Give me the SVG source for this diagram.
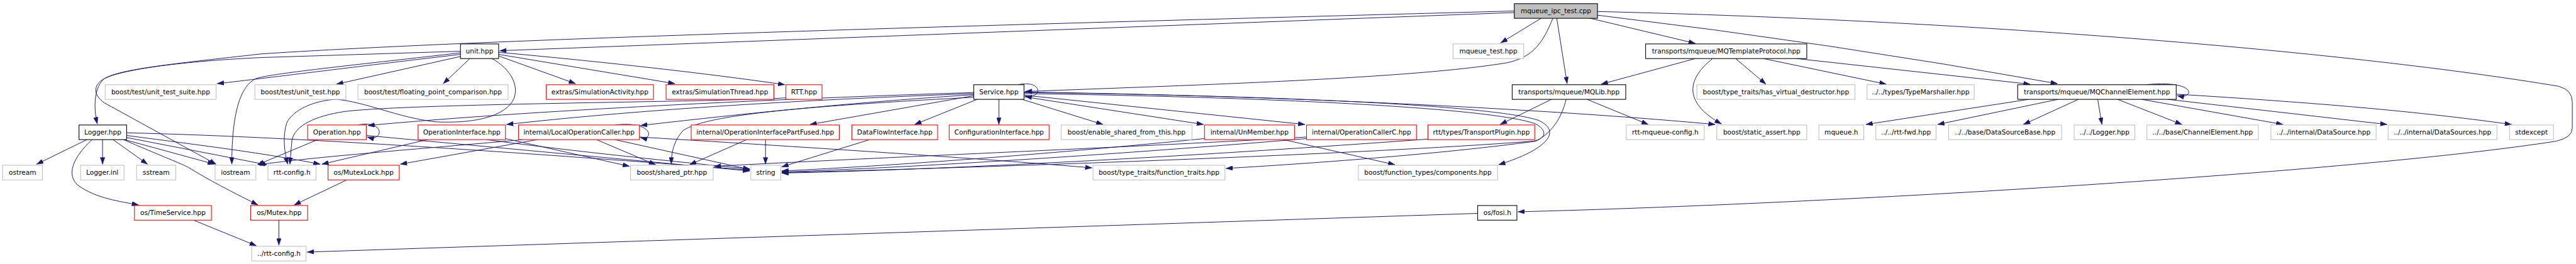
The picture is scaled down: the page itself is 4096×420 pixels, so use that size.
<svg xmlns="http://www.w3.org/2000/svg" width="4096" height="420" viewBox="0 0 4096 420">
<style>
.n rect{stroke-width:1.3}
.g rect{fill:#fff;stroke:#bfbfbf}
.r rect{fill:#fff;stroke:#ff0000}
.b rect{fill:#fff;stroke:#000}
.root rect{fill:#bfbfbf;stroke:#000}
text{font-family:"DejaVu Sans","Liberation Sans",sans-serif;font-size:12.7px;fill:#000;text-anchor:middle}
#edges path{fill:none;stroke:#191970;stroke-width:1.2;marker-end:url(#ah)}
</style>
<defs>
<marker id="ah" markerUnits="userSpaceOnUse" viewBox="0 0 13 9" markerWidth="13" markerHeight="9" refX="13" refY="4.5" orient="auto"><path d="M0,0 L13,4.5 L0,9 z" fill="#191970" stroke="#191970" stroke-width="0.5"/></marker>
</defs>
<rect width="4096" height="420" fill="#fff"/>
<g transform="scale(0.832)">
<g id="edges">
<path d="M2894,24 L955,97"/>
<path d="M2894,21 C2200,40 1000,70 500,103 C330,122 230,132 200,150 C180,160 175,180 200,197 L413,314"/>
<path d="M880,98 L500,110 C330,118 230,135 200,150 C180,165 178,205 186,237"/>
<path d="M880,104 C700,125 520,148 415,160"/>
<path d="M880,108 L643,161"/>
<path d="M898,112 L847,160"/>
<path d="M880,101 C700,122 520,140 490,150 C455,165 443,230 443,314"/>
<path d="M940,112 C975,130 1000,170 975,200 C945,232 880,235 833,233 C760,225 700,195 643,190 C600,192 560,210 548,235 C540,260 543,290 550,314"/>
<path d="M953,107 L1100,160"/>
<path d="M953,104 L1290,160"/>
<path d="M953,100 C1150,118 1350,140 1500,162"/>
<path d="M2947,34 L2868,82"/>
<path d="M2968,34 C2950,80 2930,110 2880,120 C2700,150 2300,162 1959,175"/>
<path d="M2975,34 L2995,160"/>
<path d="M3035,34 L3240,83"/>
<path d="M3053,29 Q3500,82 3932,160"/>
<path d="M3053,22 C3800,40 4500,100 4890,165 Q4916,172 4916,195 L4916,245 Q4916,263 4885,270 C4500,330 3500,390 2901,405"/>
<path d="M166,267 L70,314"/>
<path d="M196,267 L196,314"/>
<path d="M216,267 L282,314"/>
<path d="M238,267 L410,314"/>
<path d="M176,267 C140,300 125,335 150,355 C185,380 230,385 265,392"/>
<path d="M236,267 C300,295 340,310 360,320 C400,345 440,365 493,392"/>
<path d="M242,263 L510,315"/>
<path d="M242,259 C400,280 500,292 612,314"/>
<path d="M242,254 C600,262 1100,300 1433,325"/>
<path d="M370,421 L490,470"/>
<path d="M533,421 L533,469"/>
<path d="M663,344 L562,392"/>
<path d="M2824,408 L587,482"/>
<path d="M684,239 C735,228 735,272 702,262"/>
<path d="M607,267 L492,315"/>
<path d="M700,259 L1433,327"/>
<path d="M817,267 L615,314"/>
<path d="M966,265 L1203,318"/>
<path d="M930,267 C1100,290 1300,310 1433,323"/>
<path d="M1175,239 C1250,230 1250,270 1224,263"/>
<path d="M1140,267 L1253,315"/>
<path d="M1175,267 L1433,324"/>
<path d="M1027,267 L765,314"/>
<path d="M1000,267 C800,285 600,300 494,315"/>
<path d="M1222,262 C1600,285 1900,305 2087,321"/>
<path d="M1427,267 L1318,315"/>
<path d="M1463,267 L1463,314"/>
<path d="M1662,267 L1494,319"/>
<path d="M1945,162 C1995,152 1992,190 1959,184"/>
<path d="M1861,177 C1500,188 1000,212 703,240"/>
<path d="M1861,179 C1500,192 1200,212 968,238"/>
<path d="M1861,181 C1600,198 1400,220 1224,240"/>
<path d="M1861,183 L1548,238"/>
<path d="M1870,189 L1748,238"/>
<path d="M1909,189 L1909,238"/>
<path d="M1950,189 L2108,238"/>
<path d="M1957,185 L2300,238"/>
<path d="M1957,182 L2494,238"/>
<path d="M1861,186 C1500,205 1345,222 1305,250 C1288,270 1283,290 1283,314"/>
<path d="M1957,177 C2400,182 2850,200 2940,230 C2985,250 2960,285 2864,315"/>
<path d="M1957,179 C2400,185 2850,205 2935,237 C2958,250 2955,265 2930,270 C2600,295 1900,320 1494,330"/>
<path d="M1957,176 C2500,184 3000,212 3278,238"/>
<path d="M1502,187 C1400,195 800,197 660,213 C600,222 565,240 558,267 L554,314"/>
<path d="M2993,190 C2985,225 2965,255 2935,270 C2750,295 2500,313 2343,322"/>
<path d="M2302,265 C2100,285 1800,312 1494,327"/>
<path d="M2453,267 L2666,315"/>
<path d="M2497,265 C2200,290 1800,318 1494,329"/>
<path d="M2497,262 C2200,280 1700,300 1365,318"/>
<path d="M2729,266 C2400,290 1900,322 1494,331"/>
<path d="M3033,190 L3150,238"/>
<path d="M2965,190 L2867,238"/>
<path d="M3240,112 L3060,161"/>
<path d="M3273,112 C3225,150 3215,195 3290,237"/>
<path d="M3317,112 L3375,161"/>
<path d="M3370,112 L3605,161"/>
<path d="M3433,112 L3880,161"/>
<path d="M4100,162 C4200,152 4195,190 4161,183"/>
<path d="M3877,190 L3566,238"/>
<path d="M3933,190 L3703,238"/>
<path d="M3972,190 L3867,238"/>
<path d="M4009,190 L4017,238"/>
<path d="M4047,190 L4170,238"/>
<path d="M4093,190 L4363,238"/>
<path d="M4143,190 L4562,238"/>
<path d="M4159,180 C4400,195 4600,210 4800,238"/>
</g>
<g id="n_root" class="n root"><rect x="2894" y="7" width="159" height="28"/><text x="2973.5" y="25.5">mqueue_ipc_test.cpp</text></g>
<g id="n_unit" class="n b"><rect x="880" y="84" width="73" height="28"/><text x="916.5" y="102.5">unit.hpp</text></g>
<g id="n_mqtest" class="n g"><rect x="2777" y="84" width="135" height="28"/><text x="2844.5" y="102.5">mqueue_test.hpp</text></g>
<g id="n_mqtp" class="n b"><rect x="3145" y="84" width="308" height="28"/><text x="3299" y="102.5">transports/mqueue/MQTemplateProtocol.hpp</text></g>
<g id="n_uts" class="n g"><rect x="201" y="162" width="212" height="28"/><text x="307" y="180.5">boost/test/unit_test_suite.hpp</text></g>
<g id="n_ut" class="n g"><rect x="487" y="162" width="174" height="28"/><text x="574" y="180.5">boost/test/unit_test.hpp</text></g>
<g id="n_fpc" class="n g"><rect x="684" y="162" width="287" height="28"/><text x="827.5" y="180.5">boost/test/floating_point_comparison.hpp</text></g>
<g id="n_simact" class="n r"><rect x="1044" y="162" width="205" height="28"/><text x="1146.5" y="180.5">extras/SimulationActivity.hpp</text></g>
<g id="n_simthr" class="n r"><rect x="1273" y="162" width="206" height="28"/><text x="1376" y="180.5">extras/SimulationThread.hpp</text></g>
<g id="n_rtt" class="n r"><rect x="1502" y="162" width="69" height="28"/><text x="1536.5" y="180.5">RTT.hpp</text></g>
<g id="n_service" class="n b"><rect x="1861" y="162" width="96" height="28"/><text x="1909" y="180.5">Service.hpp</text></g>
<g id="n_mqlib" class="n b"><rect x="2890" y="162" width="217" height="28"/><text x="2998.5" y="180.5">transports/mqueue/MQLib.hpp</text></g>
<g id="n_hvd" class="n g"><rect x="3243" y="162" width="302" height="28"/><text x="3394" y="180.5">boost/type_traits/has_virtual_destructor.hpp</text></g>
<g id="n_tm" class="n g"><rect x="3568" y="162" width="205" height="28"/><text x="3670.5" y="180.5">../../types/TypeMarshaller.hpp</text></g>
<g id="n_mqce" class="n b"><rect x="3856" y="162" width="303" height="28"/><text x="4007.5" y="180.5">transports/mqueue/MQChannelElement.hpp</text></g>
<g id="n_logger" class="n b"><rect x="151" y="239" width="91" height="28"/><text x="196.5" y="257.5">Logger.hpp</text></g>
<g id="n_op" class="n r"><rect x="588" y="239" width="112" height="28"/><text x="644" y="257.5">Operation.hpp</text></g>
<g id="n_opif" class="n r"><rect x="799" y="239" width="167" height="28"/><text x="882.5" y="257.5">OperationInterface.hpp</text></g>
<g id="n_loc" class="n r"><rect x="991" y="239" width="231" height="28"/><text x="1106.5" y="257.5">internal/LocalOperationCaller.hpp</text></g>
<g id="n_opf" class="n r"><rect x="1321" y="239" width="283" height="28"/><text x="1462.5" y="257.5">internal/OperationInterfacePartFused.hpp</text></g>
<g id="n_dfi" class="n r"><rect x="1628" y="239" width="164" height="28"/><text x="1710" y="257.5">DataFlowInterface.hpp</text></g>
<g id="n_cfg" class="n r"><rect x="1814" y="239" width="191" height="28"/><text x="1909.5" y="257.5">ConfigurationInterface.hpp</text></g>
<g id="n_esft" class="n g"><rect x="2028" y="239" width="250" height="28"/><text x="2153" y="257.5">boost/enable_shared_from_this.hpp</text></g>
<g id="n_unm" class="n r"><rect x="2302" y="239" width="172" height="28"/><text x="2388" y="257.5">internal/UnMember.hpp</text></g>
<g id="n_occ" class="n r"><rect x="2497" y="239" width="210" height="28"/><text x="2602" y="257.5">internal/OperationCallerC.hpp</text></g>
<g id="n_tp" class="n r"><rect x="2729" y="239" width="204" height="28"/><text x="2831" y="257.5">rtt/types/TransportPlugin.hpp</text></g>
<g id="n_mqcfg" class="n g"><rect x="3108" y="239" width="149" height="28"/><text x="3182.5" y="257.5">rtt-mqueue-config.h</text></g>
<g id="n_sa" class="n g"><rect x="3281" y="239" width="172" height="28"/><text x="3367" y="257.5">boost/static_assert.hpp</text></g>
<g id="n_mqh" class="n g"><rect x="3476" y="239" width="86" height="28"/><text x="3519" y="257.5">mqueue.h</text></g>
<g id="n_fwd" class="n g"><rect x="3585" y="239" width="115" height="28"/><text x="3642.5" y="257.5">../../rtt-fwd.hpp</text></g>
<g id="n_dsb" class="n g"><rect x="3724" y="239" width="216" height="28"/><text x="3832" y="257.5">../../base/DataSourceBase.hpp</text></g>
<g id="n_log2" class="n g"><rect x="3964" y="239" width="116" height="28"/><text x="4022" y="257.5">../../Logger.hpp</text></g>
<g id="n_ce" class="n g"><rect x="4103" y="239" width="213" height="28"/><text x="4209.5" y="257.5">../../base/ChannelElement.hpp</text></g>
<g id="n_ds" class="n g"><rect x="4340" y="239" width="201" height="28"/><text x="4440.5" y="257.5">../../internal/DataSource.hpp</text></g>
<g id="n_dss" class="n g"><rect x="4564" y="239" width="208" height="28"/><text x="4668" y="257.5">../../internal/DataSources.hpp</text></g>
<g id="n_stdex" class="n g"><rect x="4796" y="239" width="84" height="28"/><text x="4838" y="257.5">stdexcept</text></g>
<g id="n_ostream" class="n g"><rect x="5" y="316" width="76" height="28"/><text x="43" y="334.5">ostream</text></g>
<g id="n_linl" class="n g"><rect x="154" y="316" width="83" height="28"/><text x="195.5" y="334.5">Logger.inl</text></g>
<g id="n_sstream" class="n g"><rect x="261" y="316" width="75" height="28"/><text x="298.5" y="334.5">sstream</text></g>
<g id="n_iostream" class="n g"><rect x="411" y="316" width="78" height="28"/><text x="450" y="334.5">iostream</text></g>
<g id="n_rttcfg" class="n g"><rect x="512" y="316" width="92" height="28"/><text x="558" y="334.5">rtt-config.h</text></g>
<g id="n_mlock" class="n r"><rect x="627" y="316" width="136" height="28"/><text x="695" y="334.5">os/MutexLock.hpp</text></g>
<g id="n_sp" class="n g"><rect x="1205" y="316" width="158" height="28"/><text x="1284" y="334.5">boost/shared_ptr.hpp</text></g>
<g id="n_string" class="n g"><rect x="1435" y="316" width="57" height="28"/><text x="1463.5" y="334.5">string</text></g>
<g id="n_ft" class="n g"><rect x="2089" y="316" width="252" height="28"/><text x="2215" y="334.5">boost/type_traits/function_traits.hpp</text></g>
<g id="n_comp" class="n g"><rect x="2596" y="316" width="266" height="28"/><text x="2729" y="334.5">boost/function_types/components.hpp</text></g>
<g id="n_ts" class="n r"><rect x="257" y="393" width="147" height="28"/><text x="330.5" y="411.5">os/TimeService.hpp</text></g>
<g id="n_mutex" class="n r"><rect x="479" y="393" width="109" height="28"/><text x="533.5" y="411.5">os/Mutex.hpp</text></g>
<g id="n_fosi" class="n b"><rect x="2824" y="393" width="75" height="28"/><text x="2861.5" y="411.5">os/fosi.h</text></g>
<g id="n_rttcfg2" class="n g"><rect x="481" y="471" width="104" height="28"/><text x="533" y="489.5">../rtt-config.h</text></g>
</g>
</svg>
